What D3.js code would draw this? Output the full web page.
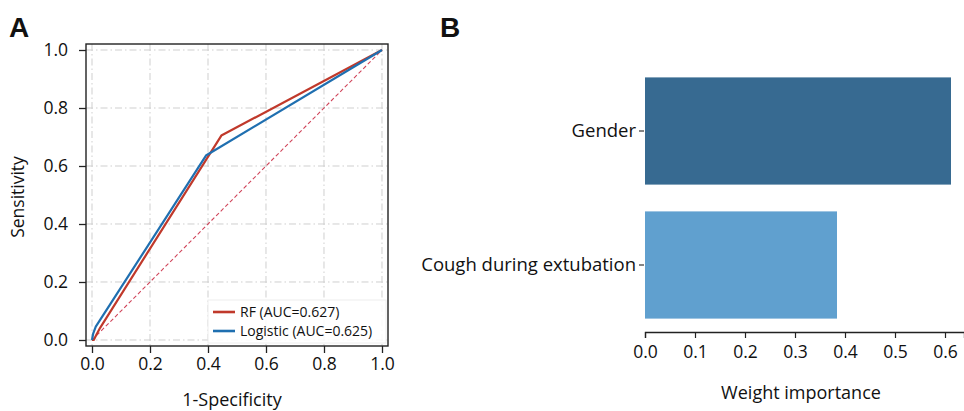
<!DOCTYPE html>
<html>
<head>
<meta charset="utf-8">
<script src="https://cdn.jsdelivr.net/npm/d3@7"></script>
<style>
  html, body { margin: 0; padding: 0; background: #fff; }
  svg { display: block; }
  text { font-family: "Open Sans", "Noto Sans", sans-serif; fill: #111; }
</style>
</head>
<body>
<svg id="chart" width="964" height="411"></svg>
<script>
// ---- Data ----
const rocTicks = [0, 0.2, 0.4, 0.6, 0.8, 1.0];
const rfFpr = [0, 0.006, 0.016, 0.028, 0.446, 1];
const rfTpr = [0, 0, 0.020, 0.042, 0.705, 1];
const logFpr = [0, 0.004, 0.013, 0.393, 1];
const logTpr = [0, 0.022, 0.046, 0.636, 1];
const chanceLine = [0, 1];
const legendLabels = ["RF (AUC=0.627)", "Logistic (AUC=0.625)"];

const features = ["Gender", "Cough during extubation"];
const importance = [0.612, 0.384];
const impTicks = [0, 0.1, 0.2, 0.3, 0.4, 0.5, 0.6];

const svg = d3.select("#chart");
const FONT = "'Open Sans', 'Noto Sans', sans-serif";

// ---------- Panel A: ROC ----------
const A = { left: 86, right: 388, top: 44, bottom: 346 };
const xA = d3.scaleLinear().domain([-0.0207, 1.0207]).range([A.left, A.right]);
const yA = d3.scaleLinear().domain([-0.0207, 1.0207]).range([A.bottom, A.top]);

const gA = svg.append("g");
// grid
gA.selectAll(".gx").data(rocTicks).enter().append("line")
  .attr("x1", d => xA(d)).attr("x2", d => xA(d))
  .attr("y1", A.top).attr("y2", A.bottom)
  .attr("stroke", "#cfcfcf").attr("stroke-width", 1)
  .attr("stroke-dasharray", "7,3,1.5,3");
gA.selectAll(".gy").data(rocTicks).enter().append("line")
  .attr("y1", d => yA(d)).attr("y2", d => yA(d))
  .attr("x1", A.left).attr("x2", A.right)
  .attr("stroke", "#cfcfcf").attr("stroke-width", 1)
  .attr("stroke-dasharray", "7,3,1.5,3");

// chance line
gA.append("line")
  .attr("x1", xA(chanceLine[0])).attr("y1", yA(chanceLine[0]))
  .attr("x2", xA(chanceLine[1])).attr("y2", yA(chanceLine[1]))
  .attr("stroke", "#d0455a").attr("stroke-width", 1.1)
  .attr("stroke-dasharray", "4,2.5");

const line = d3.line().x(d => xA(d[0])).y(d => yA(d[1]));
gA.append("path").datum(rfFpr.map((v, i) => [v, rfTpr[i]]))
  .attr("d", line).attr("fill", "none")
  .attr("stroke", "#c0392b").attr("stroke-width", 2.2).attr("stroke-linejoin", "round");
gA.append("path").datum(logFpr.map((v, i) => [v, logTpr[i]]))
  .attr("d", line).attr("fill", "none")
  .attr("stroke", "#1f6fb0").attr("stroke-width", 2.2).attr("stroke-linejoin", "round");

// legend
const leg = gA.append("g");
leg.append("rect").attr("x", 208).attr("y", 300).attr("width", 178).attr("height", 43)
  .attr("fill", "#fff").attr("fill-opacity", 0.85).attr("stroke", "#eeeeee");
const legColors = ["#c0392b", "#1f6fb0"];
legendLabels.forEach((lab, i) => {
  const y = 312 + i * 19;
  leg.append("line").attr("x1", 213).attr("x2", 235).attr("y1", y).attr("y2", y)
    .attr("stroke", legColors[i]).attr("stroke-width", 2.6);
  leg.append("text").attr("x", 240).attr("y", y).attr("dy", "0.35em")
    .attr("font-size", 14).style("font-family", FONT).text(lab);
});

// frame
gA.append("rect").attr("x", A.left).attr("y", A.top)
  .attr("width", A.right - A.left).attr("height", A.bottom - A.top)
  .attr("fill", "none").attr("stroke", "#222").attr("stroke-width", 1.4);

// axes
const axXA = d3.axisBottom(xA).tickValues(rocTicks).tickFormat(d3.format(".1f")).tickSizeOuter(0).tickSize(7).tickPadding(5);
const gxA = gA.append("g").attr("transform", `translate(0,${A.bottom})`).call(axXA);
gxA.select(".domain").remove();
gxA.selectAll("line").attr("stroke", "#222").attr("stroke-width", 1.3);
gxA.selectAll("text").attr("font-size", 17.5).attr("fill", "#222").style("font-family", FONT);

const axYA = d3.axisLeft(yA).tickValues(rocTicks).tickFormat(d3.format(".1f")).tickSizeOuter(0).tickSize(7).tickPadding(11);
const gyA = gA.append("g").attr("transform", `translate(${A.left},0)`).call(axYA);
gyA.select(".domain").remove();
gyA.selectAll("line").attr("stroke", "#222").attr("stroke-width", 1.3);
gyA.selectAll("text").attr("font-size", 17.5).attr("fill", "#222").style("font-family", FONT);

gA.append("text").attr("x", 232).attr("y", 400).attr("dy", "0.35em")
  .attr("text-anchor", "middle").attr("font-size", 18).style("font-family", FONT).text("1-Specificity");
gA.append("text").attr("transform", "translate(18,197) rotate(-90)").attr("dy", "0.35em")
  .attr("text-anchor", "middle").attr("font-size", 17.5).style("font-family", FONT).text("Sensitivity");

svg.append("text").attr("x", 9).attr("y", 37).attr("font-size", 28).attr("font-weight", "bold")
  .style("font-family", "'Liberation Sans', Arial, sans-serif").text("A");

// ---------- Panel B: importance ----------
const B = { left: 645, top: 64, bottom: 332 };
const xB = d3.scaleLinear().domain([0, 0.638]).range([B.left, 964]);
const yB = d3.scaleBand().domain(features).range([B.top, B.bottom]).paddingInner(0.2).paddingOuter(0.1);
const barColors = ["#376a91", "#60a0cf"];

svg.append("g").selectAll("rect").data(features).enter().append("rect")
  .attr("x", xB(0)).attr("y", d => yB(d))
  .attr("width", (d, i) => xB(importance[i]) - xB(0))
  .attr("height", yB.bandwidth())
  .attr("fill", (d, i) => barColors[i]);

const axXB = d3.axisBottom(xB).tickValues(impTicks).tickFormat(d3.format(".1f")).tickSizeOuter(0).tickSize(6).tickPadding(8);
const gxB = svg.append("g").attr("transform", `translate(0,${B.bottom})`).call(axXB);
gxB.select(".domain").attr("stroke", "#222").attr("stroke-width", 1.3);
gxB.selectAll(".tick line").attr("stroke", "#222").attr("stroke-width", 1.2);
gxB.selectAll("text").attr("font-size", 17.5).attr("fill", "#111").style("font-family", FONT);

const axYB = d3.axisLeft(yB).tickSize(5).tickPadding(3).tickSizeOuter(0);
const gyB = svg.append("g").attr("transform", `translate(${B.left - 1},0)`).call(axYB);
gyB.select(".domain").remove();
gyB.selectAll(".tick line").attr("stroke", "#222").attr("stroke-width", 1.1);
gyB.selectAll("text").attr("font-size", 18.5).attr("fill", "#111").style("font-family", FONT);

svg.append("text").attr("x", 801).attr("y", 393).attr("dy", "0.35em")
  .attr("text-anchor", "middle").attr("font-size", 18).style("font-family", FONT).text("Weight importance");

svg.append("text").attr("x", 440).attr("y", 37).attr("font-size", 28).attr("font-weight", "bold")
  .style("font-family", "'Liberation Sans', Arial, sans-serif").text("B");
</script>
</body>
</html>
